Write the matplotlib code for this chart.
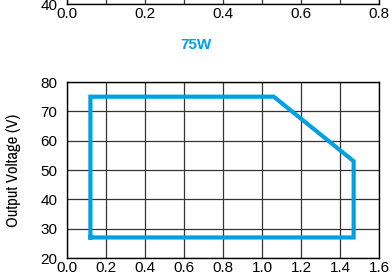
import numpy as np
import matplotlib
matplotlib.use("Agg")
from matplotlib import pyplot as plt

# safe operating area, 75W model
current = [0.12, 0.12, 1.06, 1.47, 1.47, 0.12]
voltage = [27, 75, 75, 53, 27, 27]

x_ticks = np.arange(0, 1.61, 0.2)
y_ticks = np.arange(20, 81, 10)
top_x_ticks = np.arange(0, 0.81, 0.1)

blue = "#00A0E3"
W, H = 392, 275

plt.rcParams["font.family"] = ["Liberation Sans", "DejaVu Sans"]
plt.rcParams["font.size"] = 11

fig = plt.figure(figsize=(W / 100, H / 100), dpi=100)


def style(ax):
    ax.tick_params(length=0, labelsize=11)
    ax.grid(True, color="#333333", linewidth=0.9)
    for s in ax.spines.values():
        s.set_linewidth(1.0)
        s.set_color("black")
    ax.set_axisbelow(True)


# bottom part of the previous chart, cut off by the top of the image
ax0 = fig.add_axes([67 / W, (H - 4) / H, 312 / W, 176 / H])
ax0.set_xlim(0, 0.8)
ax0.set_ylim(40, 80)
ax0.set_xticks(top_x_ticks)
ax0.set_xticklabels([f"{v:.1f}" if i % 2 == 0 else "" for i, v in enumerate(top_x_ticks)])
ax0.set_yticks([40])
style(ax0)
ax0.tick_params(axis="x", pad=2)
ax0.tick_params(axis="y", pad=7)

ax = fig.add_axes([67 / W, 17 / H, 312 / W, 176 / H])
ax.plot(current, voltage, color=blue, linewidth=3.0, solid_joinstyle="miter",
        clip_on=False)
ax.set_xlim(0, 1.6)
ax.set_ylim(20, 80)
ax.set_xticks(x_ticks)
ax.set_xticklabels([f"{v:.1f}" for v in x_ticks])
ax.set_yticks(y_ticks)
style(ax)
ax.tick_params(axis="x", pad=2)
ax.tick_params(axis="y", pad=7)
ax.set_ylabel("Output Voltage (V)",
              family=["Liberation Sans Narrow", "Archivo Narrow", "DejaVu Sans"],
              fontsize=12, labelpad=14)

fig.text(196 / W, 1 - 45 / H, "75W", color=blue, fontweight="bold",
         fontsize=11, ha="center", va="center")

fig.savefig("out.png", dpi=100)
